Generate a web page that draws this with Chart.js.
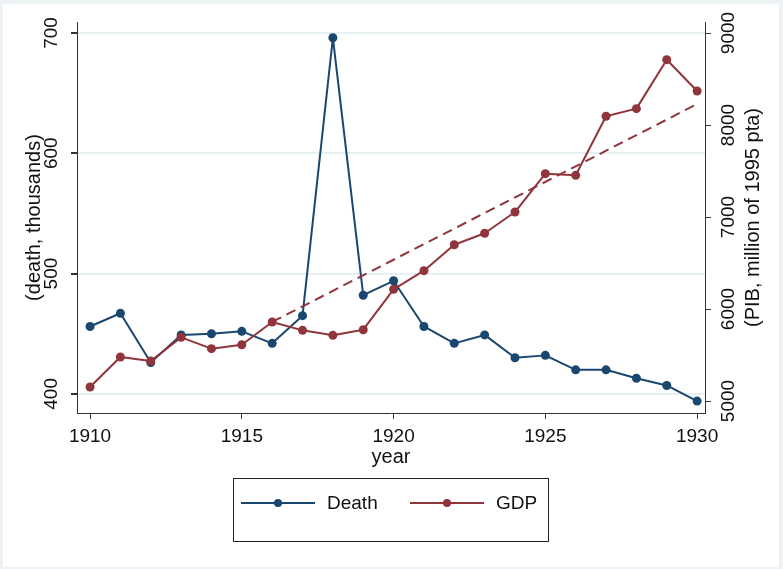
<!DOCTYPE html>
<html>
<head>
<meta charset="utf-8">
<script src="https://cdn.jsdelivr.net/npm/chart.js@4"></script>
<style>
  html, body { margin: 0; padding: 0; background: #fff; }
  #wrap { width: 783px; height: 569px; }
</style>
</head>
<body>
<div id="wrap"><canvas id="myChart" width="783" height="569"></canvas></div>
<script>
// ===============================
// Datos
// ===============================
const years = [1910, 1911, 1912, 1913, 1914, 1915, 1916, 1917, 1918, 1919, 1920,
               1921, 1922, 1923, 1924, 1925, 1926, 1927, 1928, 1929, 1930];
const deaths = [456, 467, 426, 449, 450, 452, 442, 465, 696, 482, 494,
                456, 442, 449, 430, 432, 420, 420, 413, 407, 394];
const gdp = [5152, 5478, 5435, 5692, 5569, 5612, 5859, 5768, 5714, 5775, 6214,
             6417, 6699, 6823, 7054, 7471, 7453, 8095, 8178, 8710, 8370];
const trendYears = [1916, 1930];
const trendGdp = [5859, 8228];

const xTicks = [1910, 1915, 1920, 1925, 1930];
const yLeftTicks = [400, 500, 600, 700];
const yRightTicks = [5000, 6000, 7000, 8000, 9000];

const blue = '#1a476f';
const red = '#90353b';
const FONT = "'Liberation Sans', Arial, sans-serif";

const toPoints = (xs, ys) => xs.map((x, i) => ({ x: x, y: ys[i] }));

// ===============================
// Fondo, textos de ejes y leyenda
// ===============================
const decor = {
    id: 'decor',
    beforeDraw(chart) {
        const ctx = chart.ctx;
        ctx.save();
        ctx.fillStyle = '#edf3f4';
        ctx.fillRect(0, 0, chart.width, chart.height);
        ctx.fillStyle = '#ffffff';
        ctx.fillRect(3, 4, chart.width - 7, chart.height - 6);
        ctx.restore();
    },
    afterDraw(chart) {
        const ctx = chart.ctx;
        const area = chart.chartArea;
        const sx = chart.scales.x, yl = chart.scales.y, yr = chart.scales.y2;
        const midY = (area.top + area.bottom) / 2;
        ctx.save();
        ctx.fillStyle = '#111';
        ctx.textAlign = 'center';
        ctx.textBaseline = 'middle';

        const rotText = (txt, x, y) => {
            ctx.save();
            ctx.translate(x, y);
            ctx.rotate(-Math.PI / 2);
            ctx.fillText(txt, 0, 0);
            ctx.restore();
        };

        // etiquetas de ticks
        ctx.font = '19px ' + FONT;
        xTicks.forEach(v => ctx.fillText(String(v), sx.getPixelForValue(v), 437));
        yLeftTicks.forEach(v => rotText(String(v), 52, yl.getPixelForValue(v)));
        yRightTicks.forEach(v => rotText(String(v), 729, yr.getPixelForValue(v)));

        // títulos de ejes
        ctx.font = '20px ' + FONT;
        ctx.fillText('year', (area.left + area.right) / 2, 457);
        rotText('(death, thousands)', 34, midY);
        rotText('(PIB, million of 1995 pta)', 753, midY);

        // leyenda
        ctx.strokeStyle = '#222';
        ctx.lineWidth = 1;
        ctx.strokeRect(233.5, 478.5, 315, 63);
        ctx.font = '19px ' + FONT;
        const items = [
            { label: 'Death', color: blue, x0: 241 },
            { label: 'GDP', color: red, x0: 410 }
        ];
        items.forEach(it => {
            const ly = 503;
            ctx.strokeStyle = it.color;
            ctx.lineWidth = 2;
            ctx.beginPath();
            ctx.moveTo(it.x0, ly);
            ctx.lineTo(it.x0 + 74, ly);
            ctx.stroke();
            ctx.fillStyle = it.color;
            ctx.beginPath();
            ctx.arc(it.x0 + 37, ly, 4, 0, Math.PI * 2);
            ctx.fill();
            ctx.fillStyle = '#111';
            ctx.textAlign = 'left';
            ctx.fillText(it.label, it.x0 + 86, ly + 1);
        });
        ctx.restore();
    }
};

// ===============================
// Gráfica
// ===============================
function renderChart() {
    const ctx = document.getElementById('myChart').getContext('2d');

    new Chart(ctx, {
        type: 'line',
        data: {
            datasets: [
                {
                    label: 'Death',
                    data: toPoints(years, deaths),
                    yAxisID: 'y',
                    borderColor: blue,
                    backgroundColor: blue,
                    borderWidth: 2,
                    borderJoinStyle: 'round',
                    pointRadius: 4.5,
                    pointBorderWidth: 0,
                    tension: 0,
                    order: 3
                },
                {
                    label: 'GDP',
                    data: toPoints(years, gdp),
                    yAxisID: 'y2',
                    borderColor: red,
                    backgroundColor: red,
                    borderWidth: 2,
                    borderJoinStyle: 'round',
                    pointRadius: 4.5,
                    pointBorderWidth: 0,
                    tension: 0,
                    order: 2
                },
                {
                    label: 'Trend',
                    data: toPoints(trendYears, trendGdp),
                    yAxisID: 'y2',
                    borderColor: red,
                    borderWidth: 2,
                    borderDash: [10, 6],
                    pointRadius: 0,
                    tension: 0,
                    order: 1
                }
            ]
        },
        options: {
            responsive: false,
            animation: false,
            events: [],
            layout: { padding: { top: 22, left: 0, right: 0, bottom: 0 } },
            plugins: {
                legend: { display: false },
                tooltip: { enabled: false }
            },
            scales: {
                x: {
                    type: 'linear',
                    min: 1909.57,
                    max: 1930.26,
                    afterBuildTicks: s => { s.ticks = xTicks.map(v => ({ value: v })); },
                    afterFit: s => { s.height = 156; },
                    ticks: { display: false },
                    grid: { drawOnChartArea: false, drawTicks: true, tickLength: 6, tickColor: '#333' },
                    border: { color: '#333', width: 1 }
                },
                y: {
                    position: 'left',
                    min: 384.1,
                    max: 709.1,
                    afterBuildTicks: s => { s.ticks = yLeftTicks.map(v => ({ value: v })); },
                    afterFit: s => { s.width = 77; },
                    ticks: { display: false },
                    grid: { color: '#e6f0f1', lineWidth: 2, drawTicks: true, tickLength: 6, tickColor: '#333' },
                    border: { color: '#333', width: 1 }
                },
                y2: {
                    position: 'right',
                    min: 4869.6,
                    max: 9119.6,
                    afterBuildTicks: s => { s.ticks = yRightTicks.map(v => ({ value: v })); },
                    afterFit: s => { s.width = 78; },
                    ticks: { display: false },
                    grid: { drawOnChartArea: false, drawTicks: true, tickLength: 6, tickColor: '#333' },
                    border: { color: '#333', width: 1 }
                }
            }
        },
        plugins: [decor]
    });
}

document.addEventListener('DOMContentLoaded', renderChart);
</script>
</body>
</html>
